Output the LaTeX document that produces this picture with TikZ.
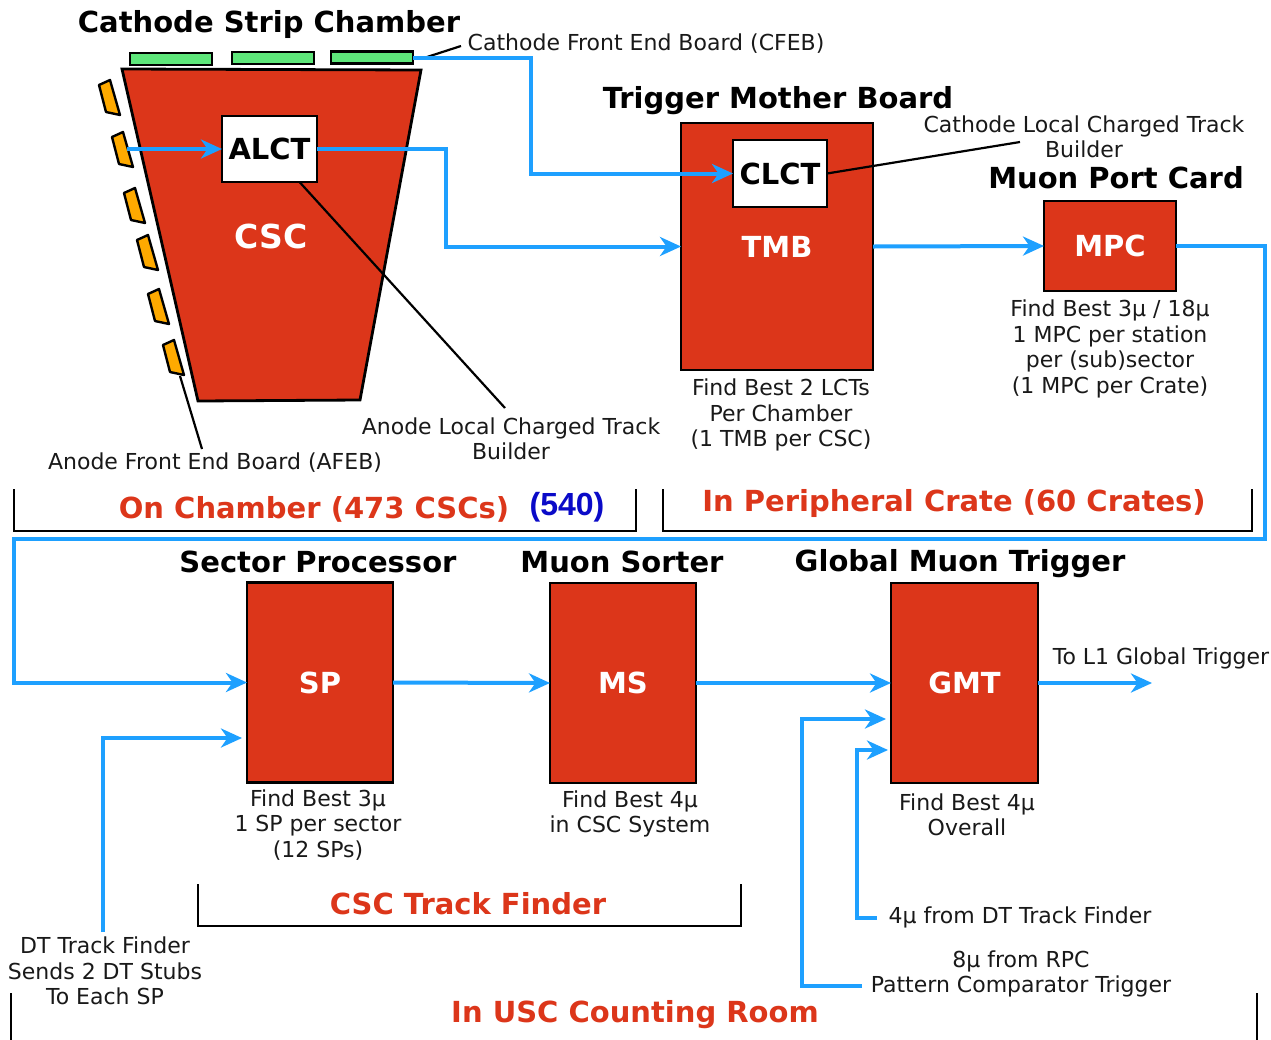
\documentclass[tikz,border=0pt]{standalone}
\usepackage{fontspec}
\setmainfont{DejaVu Sans}
\newfontfamily\libsans{Liberation Sans}
\usetikzlibrary{arrows.meta,calc}
\definecolor{boxred}{RGB}{220,54,26}
\definecolor{flowblue}{RGB}{30,160,255}
\definecolor{cfebgreen}{RGB}{94,230,122}
\definecolor{afeborange}{RGB}{255,170,0}
\definecolor{numblue}{RGB}{10,10,200}
\begin{document}
\begin{tikzpicture}[x=1pt,y=-1pt,
  flow/.style={draw=flowblue,line width=4pt,line join=miter,-{Stealth[length=21pt,width=19pt,inset=6.5pt]}},
  redbox/.style={draw=black,fill=boxred,line width=2.8pt,inner sep=0pt,outer sep=0pt,text=white,font=\fontsize{29}{34}\selectfont\bfseries},
  whitebox/.style={draw=black,fill=white,line width=2.8pt,inner sep=0pt,outer sep=0pt,text=black,font=\fontsize{29}{34}\selectfont\bfseries},
  cfebbox/.style={draw=black,fill=cfebgreen,line width=2.4pt,inner sep=0pt,outer sep=0pt,minimum width=82pt,minimum height=12pt},
  afebpiece/.style={draw=black,fill=afeborange,line width=2.4pt,line join=round},
  leader/.style={draw=black,line width=2.2pt},
  bracket/.style={draw=black,line width=2.8pt},
  body/.style={font=\fontsize{22}{25.5}\selectfont,align=center,inner sep=0pt,text=black!90},
  title/.style={font=\fontsize{29}{34}\selectfont\bfseries,inner sep=0pt,text=black},
  region/.style={font=\fontsize{29}{34}\selectfont\bfseries,inner sep=0pt,text=boxred}
]
\fill[white] (0,0) rectangle (1271,1039);
\useasboundingbox (0,0) rectangle (1271,1039);

% ---------- Cathode Strip Chamber ----------
\node[title] (cscttl) at (269,24) {Cathode Strip Chamber};
\node[cfebbox] (cfeb1) at (171,59) {};
\node[cfebbox] (cfeb2) at (273,58) {};
\node[cfebbox] (cfeb3) at (372,57.5) {};
\filldraw[fill=boxred,draw=black,line width=2.8pt,line join=miter] (122,69) -- (421,70) -- (360,400) -- (198,401) -- cycle;
\foreach \px/\py in {99/85,112/137,124/193,137/240,148/294,163/345}
  \filldraw[afebpiece] (\px,\py) -- ++(11,-5) -- ++(10,35) -- ++(-14,-3) -- cycle;
\node[whitebox,minimum width=95pt,minimum height=66pt] (alct) at (269.5,149) {ALCT};
\node[inner sep=0pt,text=white,font=\fontsize{33}{38}\selectfont\bfseries] (csclab) at (271,236) {CSC};

\coordinate (afebout) at (127,149);
\coordinate (afebtip) at (180,376);
\coordinate (afebleadend) at (202,449);
\coordinate (alctleadend) at (505,408);
\coordinate (cfebleadstart) at (427,57);
\coordinate (cfebleadend) at (461,46);

\node[body] (cfeblab) at (646,44) {Cathode Front End Board (CFEB)};
\node[body] (afeblab) at (215,463) {Anode Front End Board (AFEB)};
\node[body] (alctlab) at (511,439) {Anode Local Charged Track\\Builder};

\draw[leader] (afebtip) -- (afebleadend);
\draw[leader] ([xshift=30pt]alct.south) -- (alctleadend);
\draw[leader] (cfebleadstart) -- (cfebleadend);

% ---------- Trigger Mother Board ----------
\node[title] (tmbttl) at (778,101) {Trigger Mother Board};
\node[redbox,minimum width=192pt,minimum height=247pt] (tmb) at (777,246.5) {TMB};
\node[whitebox,minimum width=94pt,minimum height=67pt] (clct) at (780,173.5) {CLCT};
\node[body] (tmblab) at (781,415) {Find Best 2 LCTs\\Per Chamber\\(1 TMB per CSC)};
\node[body] (clctlab) at (1084,137) {Cathode Local Charged Track\\Builder};
\coordinate (clctleadend) at (1020,142);
\draw[leader] (clct.east) -- (clctleadend);

% ---------- Muon Port Card ----------
\node[title] (mpcttl) at (1116,178) {Muon Port Card};
\node[redbox,minimum width=132pt,minimum height=90pt] (mpc) at (1110,246) {MPC};
\node[body] (mpclab) at (1110,349) {Find Best 3µ / 18µ\\1 MPC per station\\per (sub)sector\\(1 MPC per Crate)};

% ---------- brackets top ----------
\draw[bracket] (14,489) -- (14,531) -- (636,531) -- (636,489);
\draw[bracket] (663,489) -- (663,531) -- (1252,531) -- (1252,489);
\node[region] (onch) at (314,509) {On Chamber (473 CSCs)};
\node[inner sep=0pt,text=numblue,font=\libsans\fontsize{32}{36}\selectfont\bfseries] (n540) at (567,507) {(540)};
\node[region] (periph) at (954,503) {In Peripheral Crate (60 Crates)};

% ---------- lower row ----------
\node[title] (spttl) at (318,562) {Sector Processor};
\node[title] (msttl) at (622,562) {Muon Sorter};
\node[title] (gmtttl) at (960,564) {Global Muon Trigger};
\node[redbox,minimum width=146pt,minimum height=200pt] (sp) at (320,682.5) {SP};
\node[redbox,minimum width=146pt,minimum height=200pt] (ms) at (623,683) {MS};
\node[redbox,minimum width=147pt,minimum height=200pt] (gmt) at (964.5,683) {GMT};
\node[body] (splab) at (318,825) {Find Best 3µ\\1 SP per sector\\(12 SPs)};
\node[body] (mslab) at (630,814) {Find Best 4µ\\in CSC System};
\node[body] (gmtlab) at (967,815) {Find Best 4µ\\Overall};
\node[body] (l1lab) at (1161,658) {To L1 Global Trigger};
\node[body] (dtlab) at (105,971) {DT Track Finder\\Sends 2 DT Stubs\\To Each SP};
\node[body] (dt4lab) at (1020,917) {4µ from DT Track Finder};
\node[body] (rpclab) at (1021,974) {8µ from RPC\\Pattern Comparator Trigger};

\draw[bracket] (198,884) -- (198,926) -- (741,926) -- (741,884);
\node[region] (csctf) at (468,904) {CSC Track Finder};
\draw[bracket] (11,993) -- (11,1045);
\draw[bracket] (1257,993) -- (1257,1045);
\node[region] (usc) at (635,1015) {In USC Counting Room};

% ---------- coordinates for flow bends ----------
\coordinate (b1) at (446,200);
\coordinate (b2) at (531,100);
\coordinate (b3) at (1265,539);
\coordinate (b4) at (14,539);
\coordinate (l1out) at (1152,683);
\coordinate (dtstart) at (103,932);
\coordinate (dtin) at (242,738);
\coordinate (rpcstart) at (862,986);
\coordinate (rpcbend) at (802,719);
\coordinate (rpcin) at (886,719);
\coordinate (dt4start) at (877,918);
\coordinate (dt4bend) at (857,750);
\coordinate (dt4in) at (888,750);

% ---------- flows ----------
\draw[flow] (afebout) -- (alct.west);
\draw[flow] (alct.east) -| (b1) |- (tmb.west);
\draw[flow] (cfeb3.east) -| (b2) |- (clct.west);
\draw[flow] (tmb.east) -- (mpc.west);
\draw[flow] (mpc.east) -| (b3) -- (b4) |- (sp.west);
\draw[flow] (sp.east) -- (ms.west);
\draw[flow] (ms.east) -- (gmt.west);
\draw[flow] (gmt.east) -- (l1out);
\draw[flow] (dtstart) |- (dtin);
\draw[flow] (rpcstart) -| (rpcbend) -- (rpcin);
\draw[flow] (dt4start) -| (dt4bend) -- (dt4in);
\end{tikzpicture}
\end{document}
